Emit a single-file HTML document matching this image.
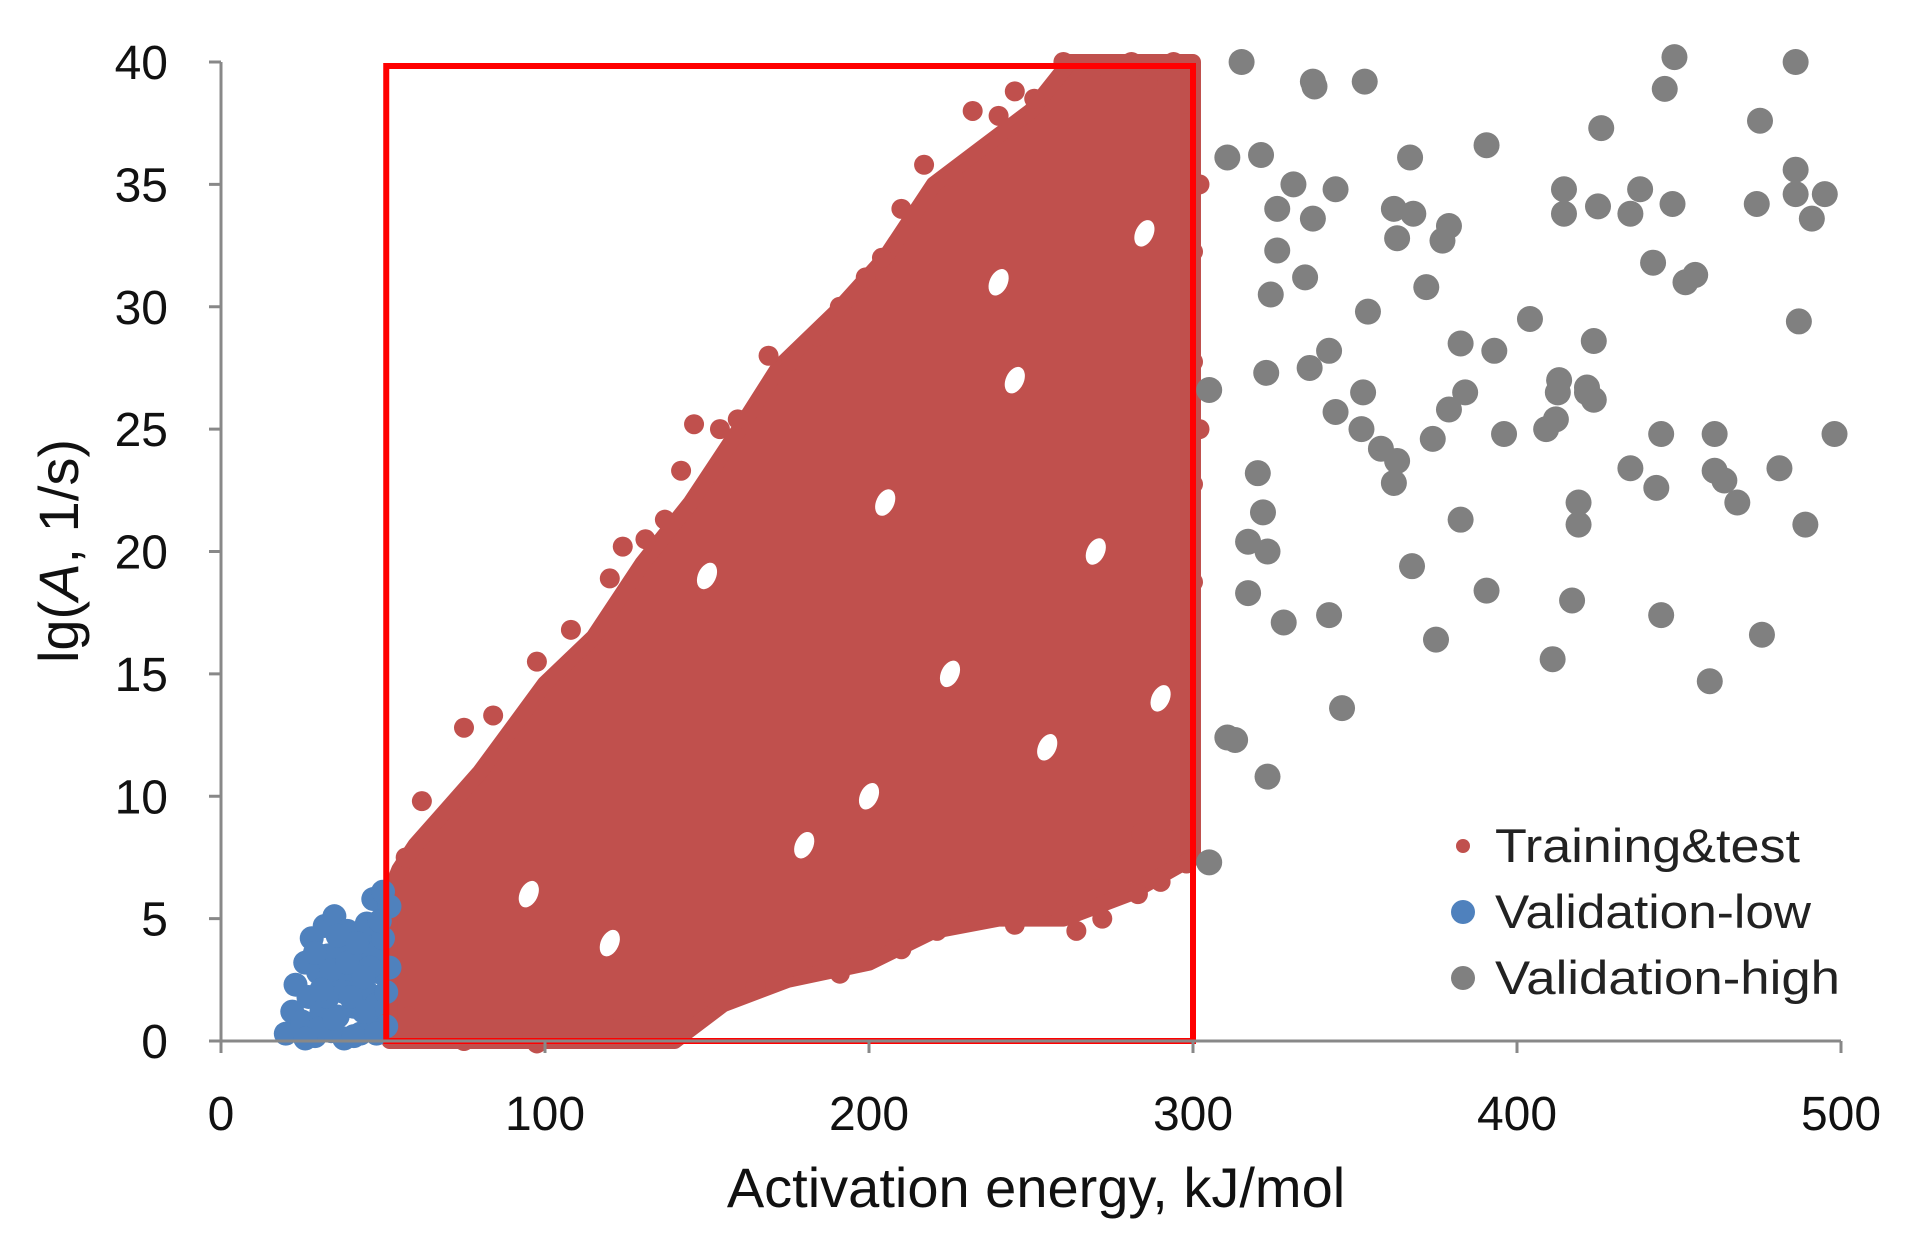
<!DOCTYPE html>
<html><head><meta charset="utf-8"><style>
html,body{margin:0;padding:0;background:#fff;}
svg{display:block;font-family:"Liberation Sans",Arial,sans-serif;}
</style></head><body>
<svg id="chart" width="1910" height="1239" viewBox="0 0 1910 1239" xmlns="http://www.w3.org/2000/svg">
<rect width="1910" height="1239" fill="#fff"/>
<g id="plot"></g>
<g id="axes"></g>
<text x="1036" y="1207" font-size="56" text-anchor="middle" fill="#111">Activation energy, kJ/mol</text>
<text transform="translate(78,551) rotate(-90)" font-size="56" text-anchor="middle" fill="#111">lg(<tspan font-style="italic">A</tspan>, 1/s)</text>
<g>
<g><circle cx="1463" cy="846" r="7" fill="#c0504d"/><text x="1495" y="862" font-size="47" fill="#222" textLength="305" lengthAdjust="spacingAndGlyphs">Training&amp;test</text></g>
<g><circle cx="1463" cy="912" r="12" fill="#4f81bd"/><text x="1495" y="928" font-size="47" fill="#222" textLength="316" lengthAdjust="spacingAndGlyphs">Validation-low</text></g>
<g><circle cx="1463" cy="978" r="12" fill="#808080"/><text x="1495" y="994" font-size="47" fill="#222" textLength="345" lengthAdjust="spacingAndGlyphs">Validation-high</text></g>
</g>
</svg>
<script>
const xTicks=[0,100,200,300,400,500];
const yTicks=[0,5,10,15,20,25,30,35,40];
const boxRange=[51,300,0,40];
const trainingEnvelope=[[52,0],[140,0],[155,1.5],[175,2.5],[200,3.2],[220,4.5],[240,5],[260,5],[280,6],[300,7.5],[300,40],[262,40],[250,38],[235,36.5],[220,35],[205,32],[190,29.8],[172,27.5],[160,25],[145,22],[130,19.5],[115,16.5],[100,14.6],[90,12.8],[80,11],[70,9.5],[60,8],[55,7],[52,6]];
const trainingHoles=[[150,19],[120,4],[245,27],[270,20],[255,12],[205,22],[180,8],[285,33],[225,15],[95,6],[290,14],[240,31],[200,10]];
const trainingPoints=[[62,9.8],[57,7.5],[75,12.8],[84,13.3],[97.5,15.5],[108,16.8],[120,18.9],[131,20.5],[137,21.3],[142,23.3],[154,25],[159.5,25.4],[169,28],[176,27.8],[184,28.8],[191,30],[199,31.2],[204,32],[210,34],[217,35.8],[232,38],[240,37.8],[251,38.5],[260,40],[270,39.8],[281,40],[294,40],[140,0.75],[152,1.75],[165,2.25],[178,3],[191,2.75],[200,4.25],[210,3.75],[221,4.5],[232,5.5],[245,4.75],[255,5.5],[264,4.5],[272,5],[277,6.5],[283,6],[290,6.5],[298,7.25],[292,8.25],[270,7],[75,0],[97.5,-0.1],[90,0.25],[120,0.5],[131,0.6],[300,27.75],[298,30.25],[300,32.25],[298,37.5],[300,22.75],[300,18.75],[298,14.75],[299,11.75],[55,3],[58,1],[65,0.2],[70,0.1],[105,0.2],[112,0.4],[146,25.2],[124,20.2],[226,35.3],[245,38.8],[286,39.2],[302,25],[302,35],[284,8.5],[258,6.5]];
const validationLow=[[20,0.3],[22,1.2],[23,2.3],[25,0.8],[26,3.2],[27,1.8],[28,4.2],[29,0.2],[30,2.8],[31,1.2],[32,4.7],[33,3.5],[34,0.4],[35,5.1],[35,2.2],[36,1.0],[37,3.8],[38,0.1],[39,4.5],[40,2.6],[41,1.4],[42,3.3],[43,0.3],[44,4.4],[45,4.8],[45,2.0],[46,0.9],[47,5.8],[47,3.6],[48,1.5],[49,2.8],[50,6.1],[50,4.2],[51,0.6],[52,5.5],[52,3.0],[38,2.0],[30,0.5],[41,0.2],[33,1.8],[44,1.2],[26,0.1],[29,3.6],[34,2.9],[36,4.3],[39,3.2],[42,4.0],[46,3.0],[49,4.9],[51,2.0],[48,0.3],[35,0.9],[40,1.8],[44,2.6],[31,2.1]];
const validationHigh=[[315,40],[337,39.2],[337.5,39],[353,39.2],[310.6,36.1],[321,36.2],[331,35],[344,34.8],[367,36.1],[326,34],[337,33.6],[362,34],[368,33.8],[363,32.8],[379,33.3],[377,32.7],[326,32.3],[334.6,31.2],[324,30.5],[354,29.8],[372,30.8],[305,26.6],[322.6,27.3],[336,27.5],[342,28.2],[344,25.7],[352.5,26.5],[352,25],[358,24.2],[363,23.7],[362,22.8],[382.6,28.5],[393,28.2],[379,25.8],[384,26.5],[396,24.8],[374,24.6],[320,23.2],[321.6,21.6],[317,20.4],[323,20],[317,18.3],[328,17.1],[342,17.4],[382.6,21.3],[367.6,19.4],[375,16.4],[390.6,18.4],[346,13.6],[310.6,12.4],[313,12.3],[323,10.8],[305,7.3],[390.6,36.6],[404,29.5],[409,25],[412,25.4],[413,27],[412.6,26.5],[421.6,26.7],[421.6,26.5],[419,22],[419,21.1],[417,18],[411,15.6],[426,37.3],[414.5,34.8],[414.5,33.8],[425,34.1],[423.7,28.6],[423.7,26.2],[435,33.8],[438,34.8],[448,34.2],[442,31.8],[452,31],[455,31.3],[435,23.4],[443,22.6],[444.5,24.8],[444.5,17.4],[445.6,38.9],[448.6,40.2],[461,24.8],[461,23.3],[464,22.9],[468,22],[459.5,14.7],[475,37.6],[474,34.2],[486,35.6],[486,34.6],[486,40],[495,34.6],[491,33.6],[487,29.4],[489,21.1],[481,23.4],[475.6,16.6],[498,24.8]];

const X0=221,XS=3.24,Y0=1041,YS=979/40;
function sx(v){return X0+v*XS;}
function sy(v){return Y0-v*YS;}
const NS='http://www.w3.org/2000/svg';
const plot=document.getElementById('plot');
const axes=document.getElementById('axes');
function mk(tag,attrs,parent){const e=document.createElementNS(NS,tag);for(const k in attrs)e.setAttribute(k,attrs[k]);parent.appendChild(e);return e;}

const env=mk('polygon',{points:trainingEnvelope.map(p=>sx(p[0])+','+sy(p[1])).join(' '),fill:'#c0504d',stroke:'#c0504d','stroke-width':16,'stroke-linejoin':'round'},plot);


trainingHoles.forEach(p=>{
  const h=mk('ellipse',{cx:sx(p[0]),cy:sy(p[1]),rx:9,ry:14,fill:'#fff',transform:'rotate(25 '+sx(p[0])+' '+sy(p[1])+')'},plot);
  
  
});
trainingPoints.forEach(p=>{
  const c=mk('circle',{cx:sx(p[0]),cy:sy(p[1]),r:10,fill:'#c0504d'},plot);
  
  
});
validationLow.forEach(p=>{
  const c=mk('circle',{cx:sx(p[0]),cy:sy(p[1]),r:12,fill:'#4f81bd'},plot);
  
  
});
validationHigh.forEach(p=>{
  const c=mk('circle',{cx:sx(p[0]),cy:sy(p[1]),r:13,fill:'#808080'},plot);
  
  
});
const box=mk('rect',{x:sx(boxRange[0]),y:sy(boxRange[3])+4,width:sx(boxRange[1])-sx(boxRange[0]),height:sy(boxRange[2])-sy(boxRange[3])-4,fill:'none',stroke:'#ff0000','stroke-width':6},plot);



const ya=mk('line',{x1:X0,y1:sy(40),x2:X0,y2:Y0,stroke:'#888','stroke-width':3},axes);


const xa=mk('line',{x1:X0,y1:Y0,x2:sx(500),y2:Y0,stroke:'#888','stroke-width':3},axes);


yTicks.forEach(t=>{
  const l=mk('line',{x1:X0-12,y1:sy(t),x2:X0,y2:sy(t),stroke:'#888','stroke-width':3},axes);
  
  
  const tx=mk('text',{x:168,y:sy(t)+17,'font-size':48,'text-anchor':'end',fill:'#111'},axes);
  tx.textContent=t;
  
  
});
xTicks.forEach(t=>{
  const l=mk('line',{x1:sx(t),y1:Y0,x2:sx(t),y2:Y0+12,stroke:'#888','stroke-width':3},axes);
  
  
  const tx=mk('text',{x:sx(t),y:1130,'font-size':48,'text-anchor':'middle',fill:'#111'},axes);
  tx.textContent=t;
  
  
});
</script>
</body></html>
